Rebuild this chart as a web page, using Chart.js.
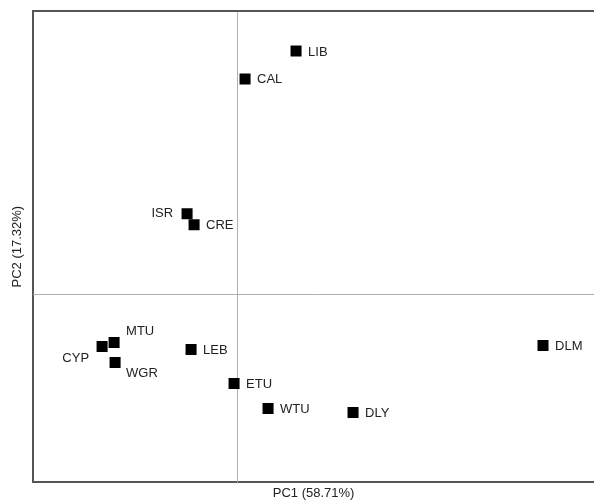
<!DOCTYPE html>
<html>
<head>
<meta charset="utf-8">
<script src="https://cdn.jsdelivr.net/npm/chart.js@4/dist/chart.umd.min.js"></script>
<style>
  html, body { margin: 0; padding: 0; background: #fff; }
  #wrap { width: 594px; height: 501px; }
</style>
</head>
<body>
<div id="wrap"><canvas id="pca"></canvas></div>
<script>
// datos del PCA
const pops = ['LIB', 'CAL', 'ISR', 'CRE', 'MTU', 'CYP', 'WGR', 'LEB', 'ETU', 'WTU', 'DLY', 'DLM']
const pc1 = [0.59, 0.08, -0.50, -0.43, -1.23, -1.35, -1.22, -0.46, -0.03, 0.31, 1.16, 3.06]
const pc2 = [2.43, 2.15, 0.80, 0.69, -0.49, -0.53, -0.69, -0.56, -0.90, -1.15, -1.19, -0.52]
const xTitle = 'PC1 (58.71%)'
const yTitle = 'PC2 (17.32%)'

// donde va cada etiqueta (por defecto a la derecha)
const lugar = { ISR: 'left', CYP: 'belowLeft', MTU: 'aboveRight', WGR: 'belowRight' }

const puntos = pops.map((p, i) => ({ x: pc1[i], y: pc2[i] }))
const fuente = '"Liberation Sans", Arial, sans-serif'

// lineas del cero y borde de arriba
const ejesCero = {
  id: 'ejesCero',
  beforeDatasetsDraw(chart) {
    const { ctx, chartArea: a, scales } = chart
    const x0 = Math.round(scales.x.getPixelForValue(0)) + 0.5
    const y0 = Math.round(scales.y.getPixelForValue(0)) + 0.5
    ctx.save()
    ctx.strokeStyle = '#b0b0b0'
    ctx.lineWidth = 1
    ctx.beginPath()
    ctx.moveTo(x0, a.top); ctx.lineTo(x0, a.bottom)
    ctx.moveTo(a.left, y0); ctx.lineTo(a.right, y0)
    ctx.stroke()
    ctx.strokeStyle = '#555'
    ctx.lineWidth = 2
    ctx.beginPath()
    ctx.moveTo(a.left, a.top); ctx.lineTo(a.right, a.top)
    ctx.stroke()
    ctx.restore()
  }
}

// etiquetas de las poblaciones
const etiquetas = {
  id: 'etiquetas',
  afterDatasetsDraw(chart) {
    const ctx = chart.ctx
    const meta = chart.getDatasetMeta(0)
    ctx.save()
    ctx.font = '13px ' + fuente
    ctx.fillStyle = '#222'
    ctx.textBaseline = 'middle'
    meta.data.forEach((el, i) => {
      const nombre = pops[i]
      const l = lugar[nombre] || 'right'
      let dx = 12, dy = 1
      ctx.textAlign = 'left'
      if (l === 'left') { dx = -14; dy = 0; ctx.textAlign = 'right' }
      if (l === 'belowLeft') { dx = -13; dy = 12; ctx.textAlign = 'right' }
      if (l === 'aboveRight') { dx = 12; dy = -11 }
      if (l === 'belowRight') { dx = 11; dy = 11 }
      ctx.fillText(nombre, el.x + dx, el.y + dy)
    })
    ctx.restore()
  }
}

const grafico = new Chart(document.getElementById('pca'), {
  type: 'scatter',
  data: {
    datasets: [{
      data: puntos,
      pointStyle: 'rect',
      pointRadius: 7.8,
      pointHoverRadius: 7.8,
      backgroundColor: '#000',
      borderWidth: 0
    }]
  },
  options: {
    responsive: true,
    maintainAspectRatio: false,
    animation: false,
    layout: { autoPadding: false, padding: { left: 10, top: 11, right: 0, bottom: 0 } },
    plugins: { legend: { display: false }, tooltip: { enabled: false } },
    scales: {
      x: {
        type: 'linear',
        min: -2.04, max: 3.57,
        ticks: { display: false },
        grid: { display: false, drawTicks: false },
        border: { display: true, color: '#555', width: 2 },
        title: {
          display: true, text: xTitle, color: '#222',
          font: { family: fuente, size: 13 },
          padding: { top: 3, bottom: 0 }
        }
      },
      y: {
        type: 'linear',
        min: -1.89, max: 2.83,
        ticks: { display: false },
        grid: { display: false, drawTicks: false },
        border: { display: true, color: '#555', width: 2 },
        title: {
          display: true, text: yTitle, color: '#222',
          font: { family: fuente, size: 13 },
          padding: { top: 0, bottom: 7.5 }
        }
      }
    }
  },
  plugins: [ejesCero, etiquetas]
})
</script>
</body>
</html>
